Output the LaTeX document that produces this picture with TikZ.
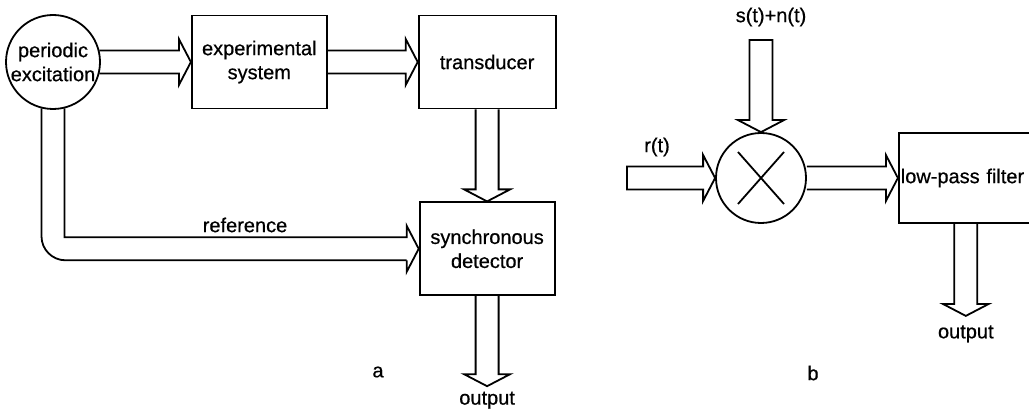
\documentclass[tikz,border=0pt]{standalone}
\usepackage{fontspec}
\setmainfont[FakeBold=0.6]{Liberation Sans}
\usetikzlibrary{positioning, calc}
\tikzset{
  diagram/.style={
	x=1pt, y=-1pt, % one unit is one pixel of the scan, y runs down
	line width=1.8pt, % all outlines are the same weight
	font=\fontsize{20}{24}\selectfont,
  },
  block/.style={draw, minimum width=135pt, minimum height=93pt, align=center}, % the plain boxes
  junction/.style={circle, draw, inner sep=0pt, align=center}, % the round elements
  blockline/.style={line join=miter, miter limit=10}, % outline of a hollow arrow
}
\newcommand{\shaftw}{11.5pt} % half width of an arrow shaft
\newcommand{\headw}{23pt} % half width of an arrow head
\newcommand{\headl}{12pt} % length of an arrow head
% hollow block arrow from #1 to #2, #3 closes the tail if wanted
\newcommand{\blockarrow}[3]{%
  \coordinate (ba-b) at ($(#2)!\headl!(#1)$);
  \draw[blockline] ($(#1)!\shaftw!90:(#2)$) -- ($(ba-b)!\shaftw!90:(#2)$)
	-- ($(ba-b)!\headw!90:(#2)$) -- (#2) -- ($(ba-b)!\headw!-90:(#2)$)
	-- ($(ba-b)!\shaftw!-90:(#2)$) -- ($(#1)!\shaftw!-90:(#2)$) #3;
}
\begin{document}
\begin{tikzpicture}[diagram]
\path[use as bounding box, clip] (0,0) rectangle (1029,409);

% part a
\node[junction, minimum size=94pt] (exc) at (53,62) {periodic\\excitation};
\node[block, right=90pt of exc] (expsys) {experimental\\system};
\node[block, right=90pt of expsys, minimum width=137pt] (trans) {transducer};
\node[block, below=92pt of trans] (sync) {synchronous\\detector};

\coordinate (excout) at ($(exc.east)+(-1.5pt,0pt)$);
\coordinate (syncout) at ($(sync.south)+(0,90)$);
\coordinate (bend) at (exc.south |- sync.west);

\blockarrow{excout}{expsys.west}{}
\blockarrow{expsys.east}{trans.west}{}
\blockarrow{trans.south}{sync.north}{}
\blockarrow{sync.south}{syncout}{}

\draw[blockline] (exc.-76) -- ($(bend)+(\shaftw,\shaftw)$) -- ($(sync.west)+(-\headl,\shaftw)$)
	-- ($(sync.west)+(-\headl,\headw)$) -- (sync.west) -- ($(sync.west)+(-\headl,-\headw)$)
	-- ($(sync.west)+(-\headl,-\shaftw)$);
\draw[blockline, rounded corners=24pt] ($(sync.west)+(-\headl,-\shaftw)$)
	-- ($(bend)+(-\shaftw,-\shaftw)$) -- (exc.-104);

\node (reflbl) at (245,225) {reference};
\node (outa) at ($(syncout)+(0,14)$) {output};
\node (lbla) at (378,372) {a};

% part b
\node[junction, minimum size=90pt, path picture={
	\draw (path picture bounding box.center) ++(-23pt,-26pt) -- ++(46pt,52pt)
	  (path picture bounding box.center) ++(23pt,-26pt) -- ++(-46pt,52pt);
  }] (mult) at (761,178) {};
\node[block, right=91pt of mult, minimum width=150pt, minimum height=90pt,
  text width=146pt, inner xsep=2pt, align=left] (lpf) {low-pass filter};

\coordinate (sntop) at ($(mult.north)+(0,-92)$);
\coordinate (rtin) at (627,178);
\coordinate (lpfbot) at ($(lpf.south)+(-8,0)$);
\coordinate (lpfout) at ($(lpfbot)+(0,92)$);

\blockarrow{sntop}{mult.north}{-- cycle}
\blockarrow{rtin}{mult.west}{-- cycle}
\blockarrow{mult.east}{lpf.west}{}
\blockarrow{lpfbot}{lpfout}{}

\node (snlbl) at (771,17) {s(t)+n(t)};
\node (rtlbl) at (657,147) {r(t)};
\node (outb) at ($(lpfout)+(0,18)$) {output};
\node (lblb) at (813,373) {b};
\end{tikzpicture}
\end{document}
